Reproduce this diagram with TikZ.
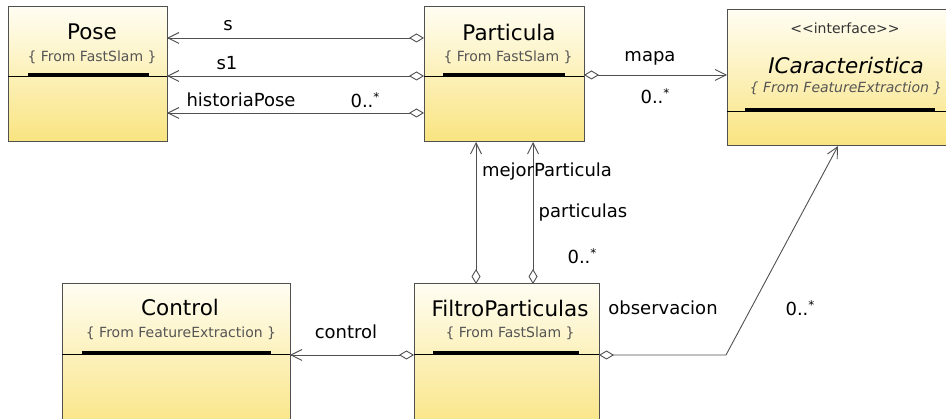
\documentclass[tikz,border=0pt]{standalone}
\usepackage{fontspec}
\setmainfont{DejaVu Sans}
\usetikzlibrary{arrows.meta}

\definecolor{boxtop}{RGB}{255,253,242}
\definecolor{boxbot}{RGB}{249,228,128}
\definecolor{boxline}{RGB}{80,80,80}
\definecolor{conn}{RGB}{80,80,80}
\definecolor{fromtext}{RGB}{85,85,85}

% multiplicity "zero or more" with a small raised star
\newcommand{\manyof}{0..\raisebox{0.55ex}{\fontsize{12}{12}\selectfont *}}

\tikzset{
  classbox/.style={draw=boxline, line width=1pt, top color=boxtop, bottom color=boxbot,
    anchor=north west, inner sep=0pt, outer sep=0pt},
  divider/.style={draw=black, line width=1pt},
  headbar/.style={draw=black, line width=3.5pt},
  classname/.style={font=\fontsize{21.5}{25}\selectfont, inner sep=0pt, text=black},
  ifacename/.style={font=\fontsize{21.5}{25}\selectfont\itshape, inner sep=0pt, text=black},
  origin/.style={font=\fontsize{14}{17}\selectfont, inner sep=0pt, text=fromtext},
  ifaceorigin/.style={font=\fontsize{14}{17}\selectfont\itshape, inner sep=0pt, text=fromtext},
  stereo/.style={font=\fontsize{14}{17}\selectfont, inner sep=0pt, text=black!80},
  role/.style={font=\fontsize{18}{21}\selectfont, inner sep=0pt, text=black},
  assoc/.style={draw=conn, line width=0.9pt,
    arrows={Diamond[fill=white,length=15pt,width=9pt]-Straight Barb[length=11pt,width=11pt]}},
}

\begin{document}
\begin{tikzpicture}[x=1pt,y=-1pt]
  \useasboundingbox (0,0) rectangle (946,419);
  \clip (0,0) rectangle (946,419);

  % class boxes
  \node[classbox, minimum width=159pt, minimum height=135pt] (pose) at (8,7) {};
  \node[classbox, minimum width=160pt, minimum height=135pt] (particula) at (424,7) {};
  \node[classbox, minimum width=226pt, minimum height=136pt] (icar) at (727,10) {};
  \node[classbox, minimum width=228pt, minimum height=150pt] (control) at (62,284) {};
  \node[classbox, minimum width=185pt, minimum height=150pt] (filtro) at (414,284) {};

  % compartment dividers and header bars
  \draw[divider] (pose.west |- 0,77) -- (pose.east |- 0,77);
  \draw[headbar] (28,75) -- (149,75);
  \draw[divider] (particula.west |- 0,77) -- (particula.east |- 0,77);
  \draw[headbar] (443,75) -- (565,75);
  \draw[divider] (icar.west |- 0,112) -- (icar.east |- 0,112);
  \draw[headbar] (745,110) -- (935,110);
  \draw[divider] (control.west |- 0,355) -- (control.east |- 0,355);
  \draw[headbar] (82,353) -- (271,353);
  \draw[divider] (filtro.west |- 0,355) -- (filtro.east |- 0,355);
  \draw[headbar] (433,353) -- (579,353);

  % class headers
  \node[classname] (poseName) at (92,32) {Pose};
  \node[origin] (poseFrom) at (92,57) {\{ From FastSlam \}};
  \node[classname] (partName) at (509,32) {Particula};
  \node[origin] (partFrom) at (508,57) {\{ From FastSlam \}};
  \node[stereo] (icarStereo) at (845,28) {<{}<interface>{}>};
  \node[ifacename] (icarName) at (846,65) {ICaracteristica};
  \node[ifaceorigin] (icarFrom) at (846,88) {\{ From FeatureExtraction \}};
  \node[classname] (ctrlName) at (180,307) {Control};
  \node[origin] (ctrlFrom) at (181,333) {\{ From FeatureExtraction \}};
  \node[classname] (filtName) at (510,308) {FiltroParticulas};
  \node[origin] (filtFrom) at (510,333) {\{ From FastSlam \}};

  % associations
  \draw[assoc] (particula.west |- 0,38) -- (pose.east |- 0,38);
  \draw[assoc] (particula.west |- 0,76) -- (pose.east |- 0,76);
  \draw[assoc] (particula.west |- 0,113) -- (pose.east |- 0,113);
  \draw[assoc] (particula.east |- 0,75) -- (icar.west |- 0,75);
  \draw[assoc] (filtro.north -| 476,0) -- (particula.south -| 476,0);
  \draw[assoc] (filtro.north -| 533,0) -- (particula.south -| 533,0);
  \draw[assoc] (filtro.west |- 0,355) -- (control.east |- 0,355);
  \coordinate (obsBend) at (726,355);
  \draw[assoc] (filtro.east |- 0,355) -- (obsBend) -- (icar.south -| 838,0);

  % role names and multiplicities
  \node[role] (lblS) at (228,26) {s};
  \node[role] (lblS1) at (227,63) {s1};
  \node[role] (lblHist) at (241,100) {historiaPose};
  \node[role] (lblHistM) at (365,100) {\manyof};
  \node[role] (lblMapa) at (650,58) {mapa};
  \node[role] (lblMapaM) at (655,96) {\manyof};
  \node[role] (lblMejor) at (547,172) {mejorParticula};
  \node[role] (lblPart) at (583,213) {particulas};
  \node[role] (lblPartM) at (582,256) {\manyof};
  \node[role] (lblCtrl) at (346,332) {control};
  \node[role] (lblObs) at (663,308) {observacion};
  \node[role] (lblObsM) at (800,308) {\manyof};
\end{tikzpicture}
\end{document}
